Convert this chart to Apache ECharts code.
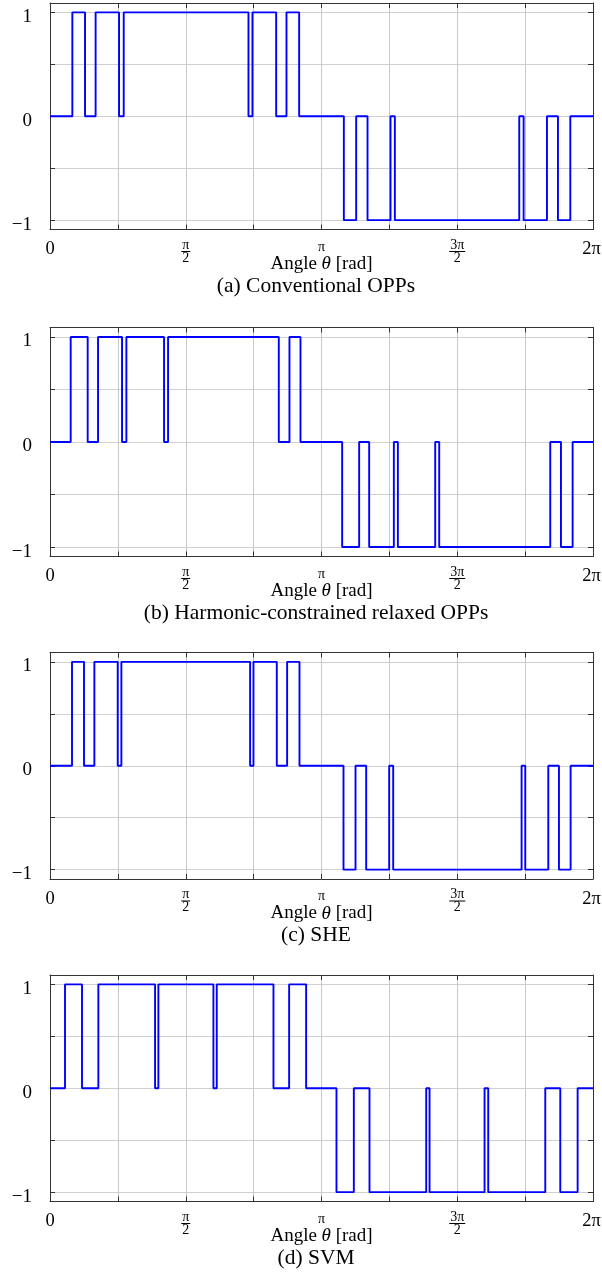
<!DOCTYPE html>
<html>
<head>
<meta charset="utf-8">
<script src="https://cdn.jsdelivr.net/npm/echarts@6/dist/echarts.min.js"></script>
<style>
    html, body { margin: 0; padding: 0; background: #fff; }
    #cn { width: 602px; height: 1275px; }
</style>
</head>
<body>
<div id="cn"></div>
<script>
'use strict';

// switching angles (multiples of pi) and the level right after each switch
const anglesA = [0.0823, 0.1290, 0.1680, 0.2543, 0.2715, 0.7310, 0.7457, 0.8330, 0.8710, 0.9177,
    1.0823, 1.1277, 1.1695, 1.2542, 1.2702, 1.7284, 1.7444, 1.8304, 1.8709, 1.9164];
const levelsA = [1, 0, 1, 0, 1, 0, 1, 0, 1, 0, -1, 0, -1, 0, -1, 0, -1, 0, -1, 0];

const anglesB = [0.0762, 0.1388, 0.1769, 0.2653, 0.2813, 0.4201, 0.4349, 0.8427, 0.8820, 0.9226,
    1.0761, 1.1387, 1.1756, 1.2665, 1.2813, 1.4188, 1.4336, 1.8426, 1.8820, 1.9250];
const levelsB = [1, 0, 1, 0, 1, 0, 1, 0, 1, 0, -1, 0, -1, 0, -1, 0, -1, 0, -1, 0];

const anglesC = [0.0811, 0.1253, 0.1634, 0.2494, 0.2629, 0.7371, 0.7494, 0.8353, 0.8734, 0.9189,
    1.0810, 1.1253, 1.1646, 1.2493, 1.2641, 1.7370, 1.7505, 1.8353, 1.8746, 1.9176];
const levelsC = [1, 0, 1, 0, 1, 0, 1, 0, 1, 0, -1, 0, -1, 0, -1, 0, -1, 0, -1, 0];

const anglesD = [0.0553, 0.1179, 0.1781, 0.3870, 0.3992, 0.6019, 0.6142, 0.8231, 0.8808, 0.9434,
    1.0552, 1.1191, 1.1768, 1.3857, 1.3980, 1.6006, 1.6141, 1.8242, 1.8795, 1.9434];
const levelsD = [1, 0, 1, 0, 1, 0, 1, 0, 1, 0, -1, 0, -1, 0, -1, 0, -1, 0, -1, 0];

const captions = ['(a) Conventional OPPs', '(b) Harmonic-constrained relaxed OPPs', '(c) SHE', '(d) SVM'];

const xTickValues = [0, 0.5, 1, 1.5, 2];
const xTickLabels = ['0', 'π/2', 'π', '3π/2', '2π'];
const yTickValues = [-1, 0, 1];
const yTickLabels = ['−1', '0', '1'];

const FONT = '"Liberation Serif", "DejaVu Serif", serif';
const INK = '#333';

// panel boxes (px)
const tops = [3, 327.5, 652.5, 975];
const heights = [226.5, 229, 226.5, 226.5];

const panels = [[anglesA, levelsA], [anglesB, levelsB], [anglesC, levelsC], [anglesD, levelsD]];

const fmtX = v => {
    const i = xTickValues.findIndex(t => Math.abs(t - v) < 1e-6);
    if (i < 0) return '';
    const s = xTickLabels[i];
    if (s.includes('/')) {
        const [num, den] = s.split('/');
        return `{n|${num}}\n{${num.length > 1 ? 'b2' : 'b1'}| }\n{d|${den}}`;
    }
    if (s === 'π') return `{p|${s}}`;
    return i === xTickValues.length - 1 ? `{zr|${s}}` : `{z|${s}}`;
};

const fmtY = v => {
    const i = yTickValues.findIndex(t => Math.abs(t - v) < 1e-6);
    return i < 0 ? '' : yTickLabels[i];
};

const xRich = {
    z: { fontFamily: FONT, fontSize: 18.5, lineHeight: 20, align: 'center', color: '#000' },
    zr: { fontFamily: FONT, fontSize: 18.5, lineHeight: 20, align: 'center', color: '#000', padding: [0, 3, 0, 0] },
    p: { fontFamily: FONT, fontSize: 14, lineHeight: 15, align: 'center', color: '#000' },
    n: { fontFamily: FONT, fontSize: 14, lineHeight: 11, align: 'center', color: '#000' },
    b1: { width: 9, height: 1, lineHeight: 2, fontSize: 1, backgroundColor: '#000', align: 'center' },
    b2: { width: 16, height: 1, lineHeight: 2, fontSize: 1, backgroundColor: '#000', align: 'center' },
    d: { fontFamily: FONT, fontSize: 14, lineHeight: 11, align: 'center', color: '#000' }
};

let grid = [], xAxis = [], yAxis = [], series = [], title = [];

panels.forEach(([angles, levels], i) => {
    const bottom = tops[i] + heights[i];
    grid.push({
        left: 50, right: 9, top: tops[i], height: heights[i],
        containLabel: false, outerBoundsMode: 'none'
    });

    const xBase = {
        gridIndex: i, type: 'value', min: 0, max: 2, interval: 0.25,
        axisLine: { onZero: false, lineStyle: { color: INK, width: 1 } },
        axisTick: { inside: true, length: 5, lineStyle: { color: INK } }
    };
    xAxis.push(Object.assign({}, xBase, {
        position: 'bottom',
        splitLine: { show: true, lineStyle: { color: '#c8c8c8', width: 1 } },
        axisLabel: { margin: 10, formatter: fmtX, fontFamily: FONT, color: '#000', rich: xRich },
        name: 'Angle {i|θ} [rad]',
        nameLocation: 'middle',
        nameGap: 25,
        nameMoveOverlap: false,
        nameTextStyle: {
            fontFamily: FONT, fontSize: 19, lineHeight: 19, color: '#000',
            rich: { i: { fontFamily: FONT, fontSize: 19, fontStyle: 'italic', color: '#000' } }
        }
    }));
    xAxis.push(Object.assign({}, xBase, {
        position: 'top',
        splitLine: { show: false },
        axisLabel: { show: false }
    }));

    const yBase = {
        gridIndex: i, type: 'value', min: -1.09, max: 1.09, minInterval: 0.5, maxInterval: 0.5,
        axisLine: { show: true, onZero: false, lineStyle: { color: INK, width: 1 } },
        axisTick: { show: true, inside: true, length: 5, lineStyle: { color: INK } }
    };
    yAxis.push(Object.assign({}, yBase, {
        position: 'left',
        splitLine: { show: true, lineStyle: { color: '#d0d0d0', width: 1 } },
        axisLabel: {
            margin: 18, verticalAlign: 'top', lineHeight: 9,
            formatter: fmtY, fontFamily: FONT, fontSize: 19, color: '#000'
        }
    }));
    yAxis.push(Object.assign({}, yBase, {
        position: 'right',
        splitLine: { show: false },
        axisLabel: { show: false }
    }));

    // start at 0, hold each level until the next switch
    const data = [[0, 0]];
    angles.forEach((a, k) => data.push([a, levels[k]]));
    data.push([2, 0]);

    series.push({
        type: 'line', step: 'end', xAxisIndex: 2 * i, yAxisIndex: 2 * i,
        data: data, symbol: 'none', silent: true,
        lineStyle: { color: '#0000ff', width: 1.9 }
    });

    title.push({
        text: captions[i], left: 316, top: bottom + 46, textAlign: 'center', padding: 0,
        textStyle: { fontFamily: FONT, fontSize: 21.5, lineHeight: 21, fontWeight: 'normal', color: '#000' }
    });
});

const chart = echarts.init(document.getElementById('cn'));
chart.setOption({
    animation: false,
    backgroundColor: '#fff',
    title: title,
    grid: grid,
    xAxis: xAxis,
    yAxis: yAxis,
    series: series
});
</script>
</body>
</html>
